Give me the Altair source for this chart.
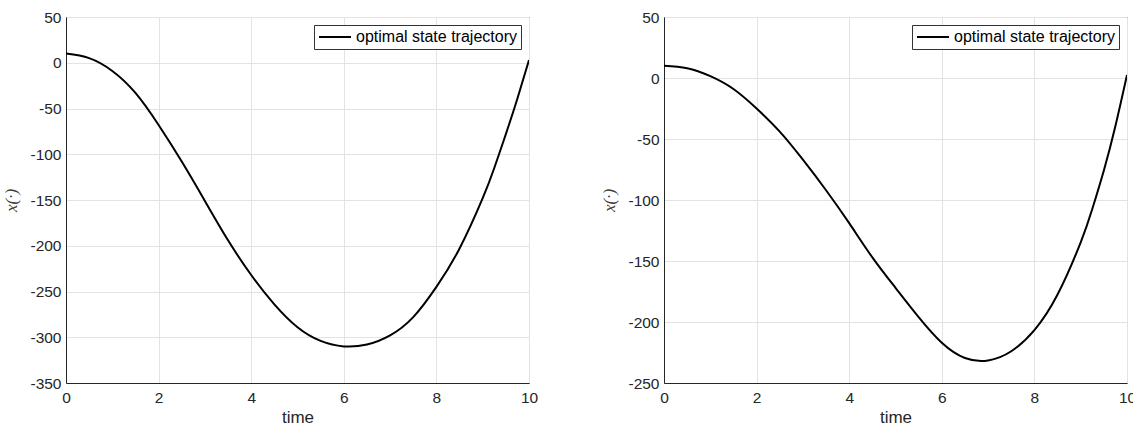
import altair as alt
import pandas as pd

# ---- data ----
series_name = "optimal state trajectory"

t_left = [0, 0.5, 1, 1.5, 2, 2.5, 3, 3.5, 4, 4.5, 5, 5.5, 6, 6.5, 7, 7.5, 8, 8.5, 9, 9.25, 9.5, 9.75, 10]
x_left = [10, 5, -9, -33, -68, -108, -151, -194, -232, -264, -289, -304, -310, -308, -298, -278, -245, -203, -148, -115, -78, -39, 3]

t_right = [0, 0.5, 1, 1.5, 2, 2.5, 3, 3.5, 4, 4.5, 5, 5.5, 6, 6.5, 7, 7.5, 8, 8.5, 9, 9.25, 9.5, 9.75, 10]
x_right = [10, 8, 1.5, -9, -25, -44, -67, -92, -119, -147, -172, -196, -217, -229.5, -231.5, -224, -206.6, -177.5, -134.7, -107.4, -75.8, -39.3, 2.5]

x_ticks = [0, 2, 4, 6, 8, 10]
y_ticks_left = [-350, -300, -250, -200, -150, -100, -50, 0, 50]
y_ticks_right = [-250, -200, -150, -100, -50, 0, 50]

INK = "#262626"


def panel(t, x, yticks):
    df = pd.DataFrame({"time": t, "x": x, "series": series_name})
    return (
        alt.Chart(df)
        .mark_line(strokeWidth=2, interpolate="natural", clip=True)
        .encode(
            x=alt.X(
                "time:Q",
                scale=alt.Scale(domain=[x_ticks[0], x_ticks[-1]], nice=False, zero=False),
                axis=alt.Axis(values=x_ticks, title="time", labelExpr="datum.value + ''"),
            ),
            y=alt.Y(
                "x:Q",
                scale=alt.Scale(domain=[yticks[0], yticks[-1]], nice=False, zero=False),
                axis=alt.Axis(
                    values=yticks,
                    title="x(·)",
                    labelExpr="datum.value + ''",
                    titleFont="Liberation Serif",
                    titleFontStyle="italic",
                    titleColor="#404040",
                    titlePadding=9,
                ),
            ),
            color=alt.Color(
                "series:N",
                scale=alt.Scale(range=["#000000"]),
                legend=alt.Legend(
                    title=None,
                    orient="top-right",
                    offset=8,
                    symbolType="stroke",
                    symbolSize=1024,
                    symbolStrokeWidth=2,
                    clipHeight=16,
                    labelFontSize=16,
                    labelFont="Liberation Sans",
                    labelColor="#000000",
                    labelLimit=0,
                    strokeColor="#333333",
                    fillColor="#ffffff",
                    padding=4,
                    labelOffset=4,
                    cornerRadius=0,
                ),
            ),
        )
        .properties(width=463, height=366)
    )


left = panel(t_left, x_left, y_ticks_left)
right = panel(t_right, x_right, y_ticks_right)

chart = (
    alt.hconcat(left, right, spacing=135, bounds="flush")
    .resolve_scale(color="independent")
    .properties(padding={"left": 2, "top": 9, "right": -4, "bottom": 0})
    .configure(background="#ffffff")
    .configure_view(stroke=INK, strokeWidth=1)
    .configure_axis(
        domainColor=INK,
        domainWidth=1,
        ticks=False,
        labelFlush=False,
        labelFont="Liberation Sans",
        labelFontSize=15.5,
        labelColor=INK,
        labelPadding=5,
        grid=True,
        gridColor="#e3e3e3",
        gridWidth=1,
        titleFont="Liberation Sans",
        titleFontSize=17,
        titleFontWeight="normal",
        titleColor=INK,
    )
    .configure_axisX(labelPadding=7, titlePadding=4)
)

chart.save("out.html", embed_options={"renderer": "svg", "actions": False})
